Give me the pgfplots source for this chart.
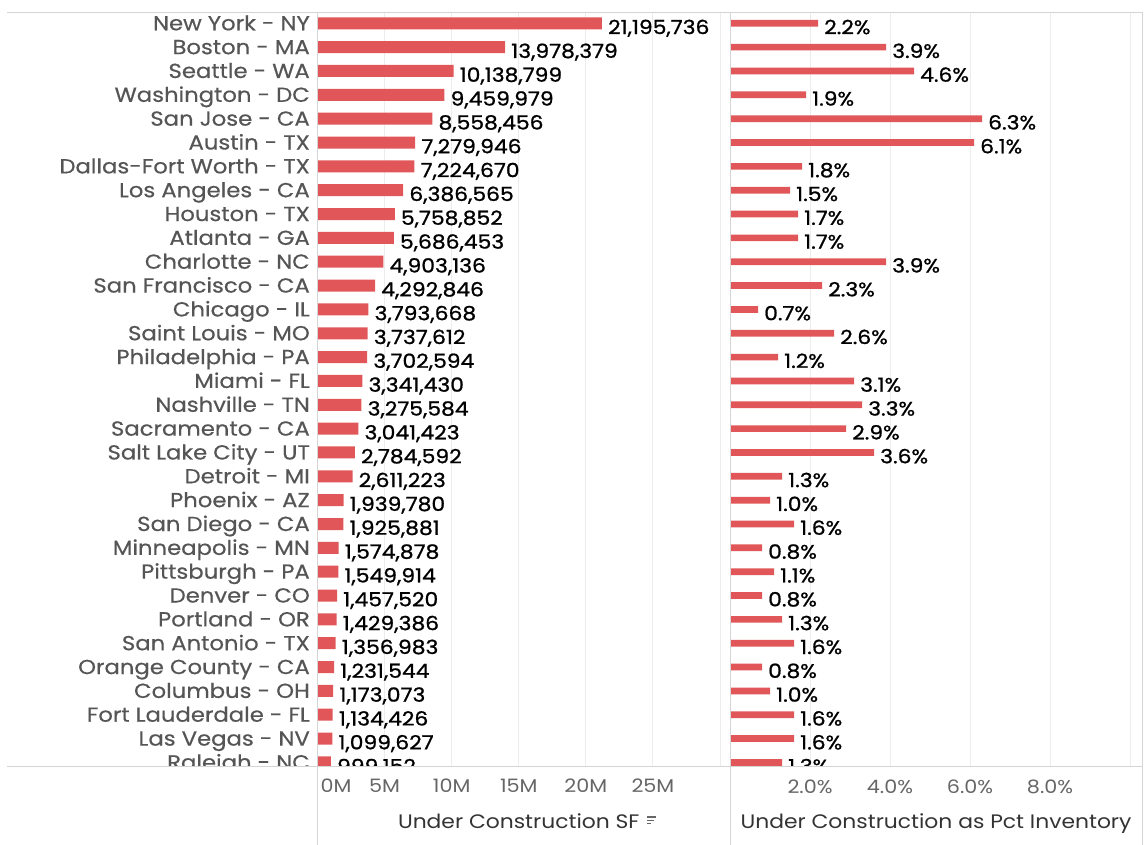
\documentclass[border=0pt]{standalone}
\usepackage{pgfplots}
\pgfplotsset{compat=1.18}
\usepackage{pgfplotstable}
\usepackage{fontspec}
\setmainfont{Poppins}[FakeStretch=1.12]
\newfontfamily\valfont{Poppins}[FakeStretch=1.12, FakeBold=1]
\newfontfamily\cityfont{Poppins}[FakeStretch=1.12, FakeBold=0.5]
\definecolor{barred}{RGB}{225,87,89}
\definecolor{citygray}{RGB}{85,85,85}
\definecolor{tickgray}{RGB}{102,102,102}
\definecolor{titlegray}{RGB}{51,51,51}
\definecolor{gridgray}{RGB}{236,236,236}
\definecolor{framegray}{RGB}{212,212,212}
\newcommand\sorticon{\makebox[9pt][l]{\color{tickgray}\makebox[0pt][l]{\rule[10.6pt]{9pt}{1.4pt}}\makebox[0pt][l]{\rule[7.3pt]{6.5pt}{1.4pt}}\rule[4pt]{3.5pt}{1.4pt}}}

\pgfplotstableread{
y sf sflabel pct
0 21.195736 21,195,736 2.2
1 13.978379 13,978,379 3.9
2 10.138799 10,138,799 4.6
3 9.459979 9,459,979 1.9
4 8.558456 8,558,456 6.3
5 7.279946 7,279,946 6.1
6 7.224670 7,224,670 1.8
7 6.386565 6,386,565 1.5
8 5.758852 5,758,852 1.7
9 5.686453 5,686,453 1.7
10 4.903136 4,903,136 3.9
11 4.292846 4,292,846 2.3
12 3.793668 3,793,668 0.7
13 3.737612 3,737,612 2.6
14 3.702594 3,702,594 1.2
15 3.341430 3,341,430 3.1
16 3.275584 3,275,584 3.3
17 3.041423 3,041,423 2.9
18 2.784592 2,784,592 3.6
19 2.611223 2,611,223 1.3
20 1.939780 1,939,780 1.0
21 1.925881 1,925,881 1.6
22 1.574878 1,574,878 0.8
23 1.549914 1,549,914 1.1
24 1.457520 1,457,520 0.8
25 1.429386 1,429,386 1.3
26 1.356983 1,356,983 1.6
27 1.231544 1,231,544 0.8
28 1.173073 1,173,073 1.0
29 1.134426 1,134,426 1.6
30 1.099627 1,099,627 1.6
31 0.999152 999,152 1.3
}\data

\begin{document}
\begin{tikzpicture}
\useasboundingbox (0,0) rectangle (1145pt,845pt);
\pgfplotsset{
  common/.style={
    anchor=south west, scale only axis,
    height=754pt,
    xbar, y dir=reverse,
    ymin=-0.474, ymax=31.15,
    axis line style={draw=none},
    major tick length=0pt, tick style={draw=none},
    xmajorgrids, major grid style={gridgray, line width=0.9pt},
    xticklabel style={anchor=base, inner sep=0pt, font=\fontsize{18.5}{19}\selectfont, text=tickgray},
    xlabel style={at={(axis description cs:0.5,0)}, anchor=base, inner sep=0pt, yshift=-62.3pt, font=\fontsize{19.5}{20}\selectfont, text=titlegray},
    every node near coord/.append style={anchor=base west, inner sep=0pt, xshift=6pt, yshift=-10.8pt, font=\valfont\fontsize{19.5}{20}\selectfont, text=black},
  }
}
\begin{axis}[common,
  at={(317.5pt,79pt)}, width=409.5pt,
  bar width=12pt,
  xmin=0, xmax=30.52,
  xtick={0,5,10,15,20,25,30},
  xticklabels={\makebox[0pt][l]{\hspace{3pt}0M},5M,10M,15M,20M,25M,},
  xticklabel style={yshift=-26.7pt},
  ytick={0,...,31},
  yticklabels={New York - NY, Boston - MA, Seattle - WA, Washington - DC, San Jose - CA, Austin - TX, Dallas-Fort Worth - TX, Los Angeles - CA, Houston - TX, Atlanta - GA, Charlotte - NC, San Francisco - CA, Chicago - IL, Saint Louis - MO, Philadelphia - PA, Miami - FL, Nashville - TN, Sacramento - CA, Salt Lake City - UT, Detroit - MI, Phoenix - AZ, San Diego - CA, Minneapolis - MN, Pittsburgh - PA, Denver - CO, Portland - OR, San Antonio - TX, Orange County - CA, Columbus - OH, Fort Lauderdale - FL, Las Vegas - NV, Raleigh - NC},
  yticklabel style={anchor=base east, inner sep=0pt, xshift=-7.5pt, yshift=-7pt, font=\cityfont\fontsize{20.3}{21}\selectfont, text=citygray},
  nodes near coords={\pgfplotspointmeta}, point meta=explicit symbolic,
  xlabel={Under Construction SF\hspace{8pt}\sorticon},
  xlabel style={xshift=5pt},
]
\addplot[fill=barred, draw=none] table[x=sf, y=y, meta=sflabel]{\data};
\end{axis}
\begin{axis}[common,
  at={(730pt,79pt)}, width=412pt,
  bar width=6.7pt,
  xmin=0, xmax=10.3,
  xtick={2,4,6,8,10},
  xticklabels={2.0\%,4.0\%,6.0\%,8.0\%,},
  xticklabel style={yshift=-27pt},
  ytick=\empty,
  nodes near coords={\pgfmathprintnumber[assume math mode=true,fixed,fixed zerofill,precision=1]{\pgfplotspointmeta}\%},
  point meta=x,
  xlabel={Under Construction as Pct Inventory},
]
\addplot[fill=barred, draw=none] table[x=pct, y=y]{\data};
\end{axis}
\fill[white] (0,67.2pt) rectangle (1145pt,78.6pt);
\draw[framegray, line width=0.9pt] (7pt,833pt) -- (1142pt,833pt);
\draw[framegray, line width=0.9pt] (7pt,79pt) -- (1142pt,79pt);
\draw[framegray, line width=0.9pt] (317.5pt,0pt) -- (317.5pt,833pt);
\draw[framegray, line width=0.9pt] (730pt,0pt) -- (730pt,833pt);
\draw[framegray, line width=0.9pt] (1142pt,0pt) -- (1142pt,833pt);
\end{tikzpicture}
\end{document}
